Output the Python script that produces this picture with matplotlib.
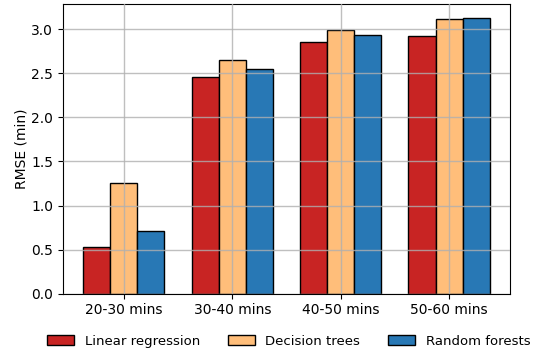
import matplotlib
matplotlib.use("Agg")
import matplotlib.pyplot as plt
import numpy as np

categories = ["20-30 mins", "30-40 mins", "40-50 mins", "50-60 mins"]
series_names = ["Linear regression", "Decision trees", "Random forests"]
linear_regression = [0.53, 2.46, 2.85, 2.92]
decision_trees = [1.26, 2.65, 2.99, 3.12]
random_forests = [0.71, 2.55, 2.93, 3.13]
colors = ["#C82423", "#FFBE7A", "#2878B5"]

fig = plt.figure(figsize=(5.37, 3.56), dpi=100)
ax = fig.add_axes([0.117, 0.175, 0.833, 0.814])

x = np.arange(len(categories))
w = 0.25
for i, (vals, name, c) in enumerate(zip([linear_regression, decision_trees, random_forests], series_names, colors)):
    ax.bar(x + (i - 1) * w, vals, width=w, color=c, edgecolor="black", linewidth=1.0, label=name, zorder=1)

ax.set_axisbelow(False)
ax.grid(True, color="#b0b0b0", linewidth=1.0, alpha=0.8, zorder=2)
ax.set_xticks(x)
ax.set_xticklabels(categories)
ax.set_yticks(np.arange(0, 3.01, 0.5))
ax.set_ylabel("RMSE (min)", labelpad=2)
ax.legend(loc="upper center", bbox_to_anchor=(0.505, -0.1), ncol=3, frameon=False,
          fontsize=9.5, handlelength=2.05, columnspacing=2.1)

fig.savefig("out.png", dpi=100)
